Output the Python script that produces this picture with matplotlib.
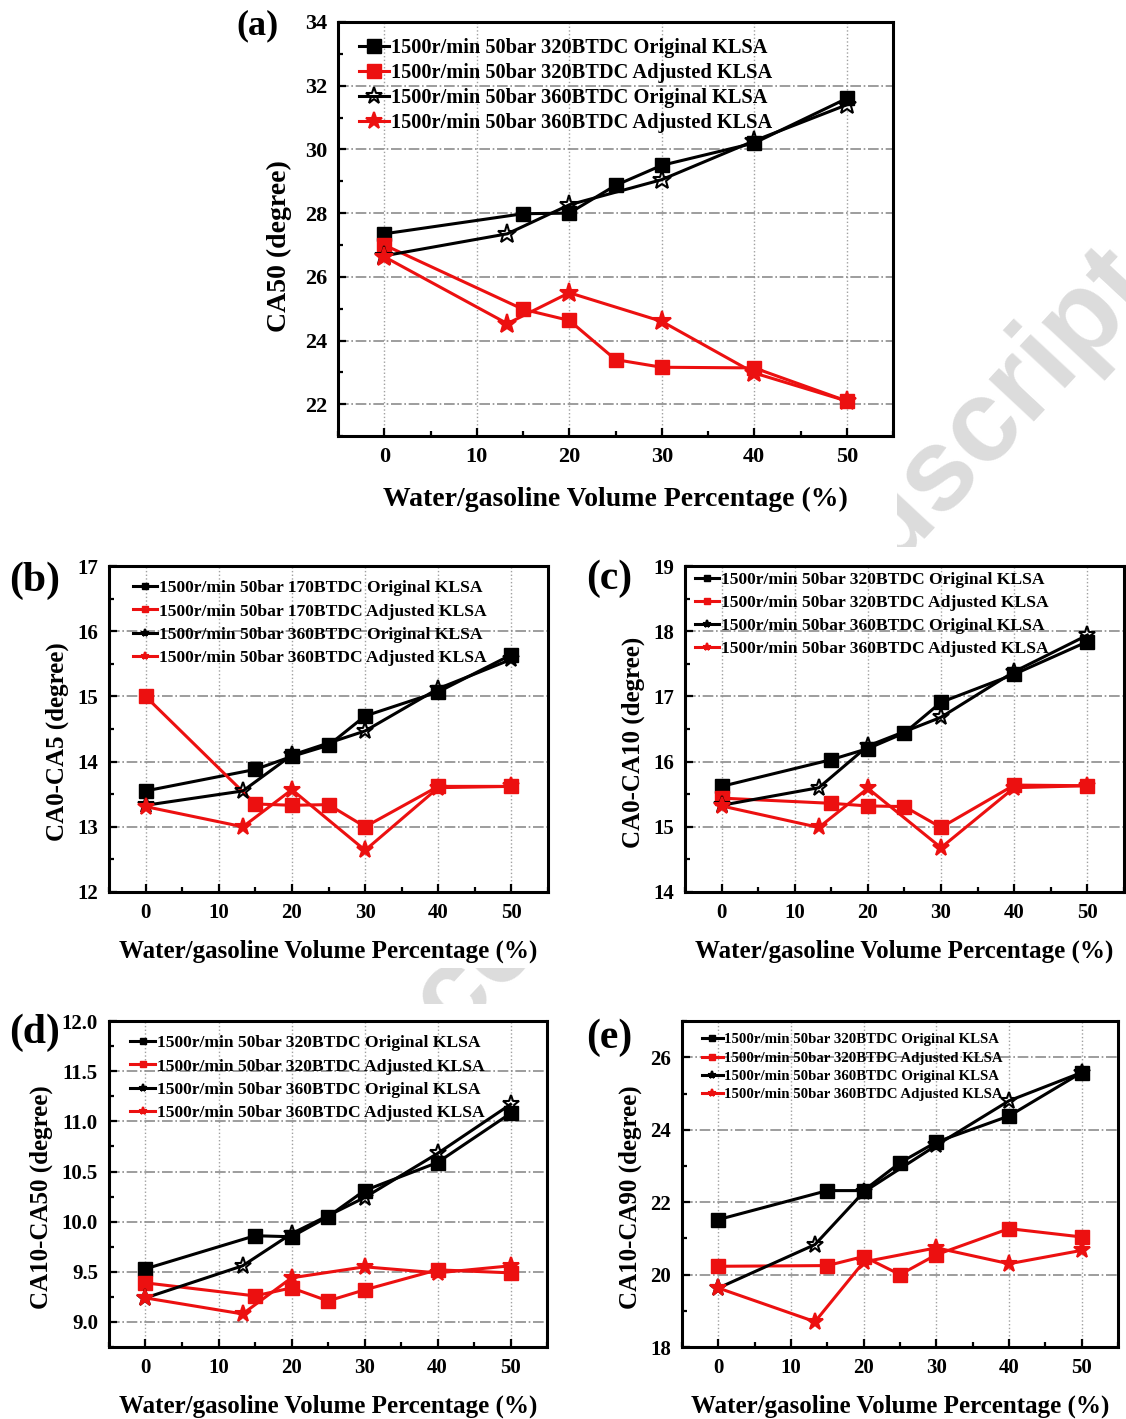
import numpy as np
import matplotlib
matplotlib.use("Agg")
import matplotlib.pyplot as plt
from matplotlib.ticker import MultipleLocator, FormatStrFormatter
from matplotlib.patches import Rectangle

plt.rcParams['font.family'] = ['Liberation Serif', 'DejaVu Serif']
plt.rcParams['font.weight'] = 'bold'

# water/gasoline volume percentage
x_320 = [0, 15, 20, 25, 30, 40, 50]
x_360 = [0, 13.3, 20, 30, 40, 50]

# (a) CA50
a_320_orig = [27.35, 27.98, 28.0, 28.87, 29.5, 30.2, 31.6]
a_320_adj = [27.0, 24.98, 24.63, 23.4, 23.16, 23.14, 22.1]
a_360_orig = [26.66, 27.35, 28.26, 29.05, 30.27, 31.4]
a_360_adj = [26.63, 24.53, 25.5, 24.6, 22.98, 22.1]

# (b) CA0-CA5
b_170_orig = [13.55, 13.88, 14.08, 14.25, 14.70, 15.07, 15.64]
b_170_adj = [15.0, 13.35, 13.33, 13.34, 13.0, 13.62, 13.62]
b_360_orig = [13.33, 13.55, 14.1, 14.47, 15.12, 15.57]
b_360_adj = [13.31, 13.0, 13.57, 12.64, 13.6, 13.62]

# (c) CA0-CA10
c_320_orig = [15.62, 16.03, 16.2, 16.44, 16.91, 17.34, 17.84]
c_320_adj = [15.44, 15.36, 15.32, 15.31, 14.99, 15.64, 15.63]
c_360_orig = [15.33, 15.6, 16.24, 16.68, 17.38, 17.94]
c_360_adj = [15.32, 14.99, 15.59, 14.68, 15.6, 15.63]

# (d) CA10-CA50
d_320_orig = [9.53, 9.86, 9.85, 10.05, 10.31, 10.59, 11.08]
d_320_adj = [9.39, 9.26, 9.34, 9.21, 9.32, 9.52, 9.49]
d_360_orig = [9.24, 9.56, 9.88, 10.24, 10.68, 11.17]
d_360_adj = [9.24, 9.08, 9.44, 9.55, 9.49, 9.56]

# (e) CA10-CA90
e_320_orig = [21.52, 22.32, 22.32, 23.09, 23.66, 24.38, 25.58]
e_320_adj = [20.23, 20.25, 20.5, 20.0, 20.55, 21.27, 21.04]
e_360_orig = [19.63, 20.83, 22.28, 23.57, 24.8, 25.58]
e_360_adj = [19.63, 18.7, 20.35, 20.74, 20.3, 20.67]

xlabel = "Water/gasoline Volume Percentage (%)"
RED = "#ec1010"
W, H = 1126, 1419

fig = plt.figure(figsize=(W / 100, H / 100), dpi=100)

# faint watermark, mostly hidden behind the white panel images
fig.text(0.651, 0.507, "Accepted Manuscript", rotation=47, fontsize=84,
         color="#dcdcdc", family="Liberation Sans", weight="bold",
         ha="center", va="center", rotation_mode="anchor", zorder=-5)


def white_box(x0, y0, x1, y1):
    # pixel box (top-left origin) -> figure fraction
    fig.add_artist(Rectangle((x0 / W, 1 - y1 / H), (x1 - x0) / W, (y1 - y0) / H,
                             transform=fig.transFigure, facecolor="white",
                             edgecolor="none", zorder=-4))


white_box(225, 0, 897, 548)
white_box(0, 548, 572, 968)
white_box(572, 547, W, 968)
white_box(0, 1004, 572, H)
white_box(572, 1004, W, H)


def panel(rect, tag, tagpos, ylabel, ylim, ymaj, ymin, series, leg, big=False):
    ax = fig.add_axes(rect)
    ax.set_facecolor("white")
    ms_sq = 10.5 if big else 10
    ms_st = 14 if big else 12.5
    for x, y, c, m, lab in series:
        if m == "s":
            ax.plot(x, y, color=c, lw=2.2, marker="s", ms=ms_sq, label=lab,
                    zorder=3)
        else:
            fc = "none" if c == "black" else c
            ax.plot(x, y, color=c, lw=2.2, marker="*", ms=ms_st, mfc=fc,
                    mew=1.5, label=lab, zorder=3)
    ax.set_xlim(-5, 55)
    ax.set_ylim(*ylim)
    ax.xaxis.set_major_locator(MultipleLocator(10))
    ax.xaxis.set_minor_locator(MultipleLocator(5))
    ax.yaxis.set_major_locator(MultipleLocator(ymaj))
    ax.yaxis.set_minor_locator(MultipleLocator(ymin))
    ax.grid(axis="x", which="major", ls=":", color="#a0a0a0", lw=1.0)
    ax.grid(axis="y", which="major", ls="-.", color="#8c8c8c", lw=1.2)
    ax.set_axisbelow(True)
    fs = 16 if big else 15
    ax.tick_params(which="both", direction="in", width=1.6, labelsize=fs,
                   top=False, right=False)
    ax.tick_params(which="major", length=6, pad=8)
    ax.tick_params(which="minor", length=3.5)
    for s in ax.spines.values():
        s.set_linewidth(2.2)
    lfs = 20 if big else 18
    ax.set_xlabel(xlabel, fontsize=lfs, fontweight="bold",
                  labelpad=14 if big else 12)
    ax.set_ylabel(ylabel, fontsize=lfs, fontweight="bold",
                  labelpad=9 if big else 6)
    ax.yaxis.label.set_y(0.46)
    fsz, lsp, anchor, mscale, hlen = leg
    ax.legend(loc="upper left", frameon=False, fontsize=fsz,
              handlelength=hlen, handletextpad=0.1, labelspacing=lsp,
              borderaxespad=0.4, markerscale=mscale, bbox_to_anchor=anchor)
    fig.text(tagpos[0], tagpos[1], tag, fontsize=26 if big else 30,
             fontweight="bold", ha="center", va="center")
    return ax


panel([0.3002, 0.6927, 0.4929, 0.2918], "(a)", (0.229, 0.982),
      "CA50 (degree)", (21, 34), 2, 1,
      [(x_320, a_320_orig, "black", "s", "1500r/min 50bar 320BTDC Original KLSA"),
       (x_320, a_320_adj, RED, "s", "1500r/min 50bar 320BTDC Adjusted KLSA"),
       (x_360, a_360_orig, "black", "*", "1500r/min 50bar 360BTDC Original KLSA"),
       (x_360, a_360_adj, RED, "*", "1500r/min 50bar 360BTDC Adjusted KLSA")],
      (14.7, 0.24, (0.008, 1.0), 0.9, 1.5), big=True)

panel([0.0968, 0.3714, 0.3899, 0.2297], "(b)", (0.031, 0.591),
      "CA0-CA5 (degree)", (12, 17), 1, 0.5,
      [(x_320, b_170_orig, "black", "s", "1500r/min 50bar 170BTDC Original KLSA"),
       (x_320, b_170_adj, RED, "s", "1500r/min 50bar 170BTDC Adjusted KLSA"),
       (x_360, b_360_orig, "black", "*", "1500r/min 50bar 360BTDC Original KLSA"),
       (x_360, b_360_adj, RED, "*", "1500r/min 50bar 360BTDC Adjusted KLSA")],
      (12.6, 0.4, (0.022, 1.0), 0.45, 1.4))

panel([0.6083, 0.3714, 0.3899, 0.2297], "(c)", (0.541, 0.592),
      "CA0-CA10 (degree)", (14, 19), 1, 0.5,
      [(x_320, c_320_orig, "black", "s", "1500r/min 50bar 320BTDC Original KLSA"),
       (x_320, c_320_adj, RED, "s", "1500r/min 50bar 320BTDC Adjusted KLSA"),
       (x_360, c_360_orig, "black", "*", "1500r/min 50bar 360BTDC Original KLSA"),
       (x_360, c_360_adj, RED, "*", "1500r/min 50bar 360BTDC Adjusted KLSA")],
      (12.6, 0.38, (-0.01, 1.025), 0.45, 1.4))

ax_d = panel([0.0968, 0.0507, 0.3890, 0.2297], "(d)", (0.031, 0.272),
             "CA10-CA50 (degree)", (8.75, 12.0), 0.5, 0.25,
             [(x_320, d_320_orig, "black", "s", "1500r/min 50bar 320BTDC Original KLSA"),
              (x_320, d_320_adj, RED, "s", "1500r/min 50bar 320BTDC Adjusted KLSA"),
              (x_360, d_360_orig, "black", "*", "1500r/min 50bar 360BTDC Original KLSA"),
              (x_360, d_360_adj, RED, "*", "1500r/min 50bar 360BTDC Adjusted KLSA")],
             (12.6, 0.4, (0.017, 1.0), 0.45, 1.4))
ax_d.yaxis.set_major_formatter(FormatStrFormatter("%.1f"))

panel([0.6057, 0.0507, 0.3872, 0.2297], "(e)", (0.541, 0.269),
      "CA10-CA90 (degree)", (18, 27), 2, 1,
      [(x_320, e_320_orig, "black", "s", "1500r/min 50bar 320BTDC Original KLSA"),
       (x_320, e_320_adj, RED, "s", "1500r/min 50bar 320BTDC Adjusted KLSA"),
       (x_360, e_360_orig, "black", "*", "1500r/min 50bar 360BTDC Original KLSA"),
       (x_360, e_360_adj, RED, "*", "1500r/min 50bar 360BTDC Adjusted KLSA")],
      (10.7, 0.33, (0.018, 1.0), 0.45, 1.4))

fig.savefig("out.png", dpi=100, facecolor="white")
